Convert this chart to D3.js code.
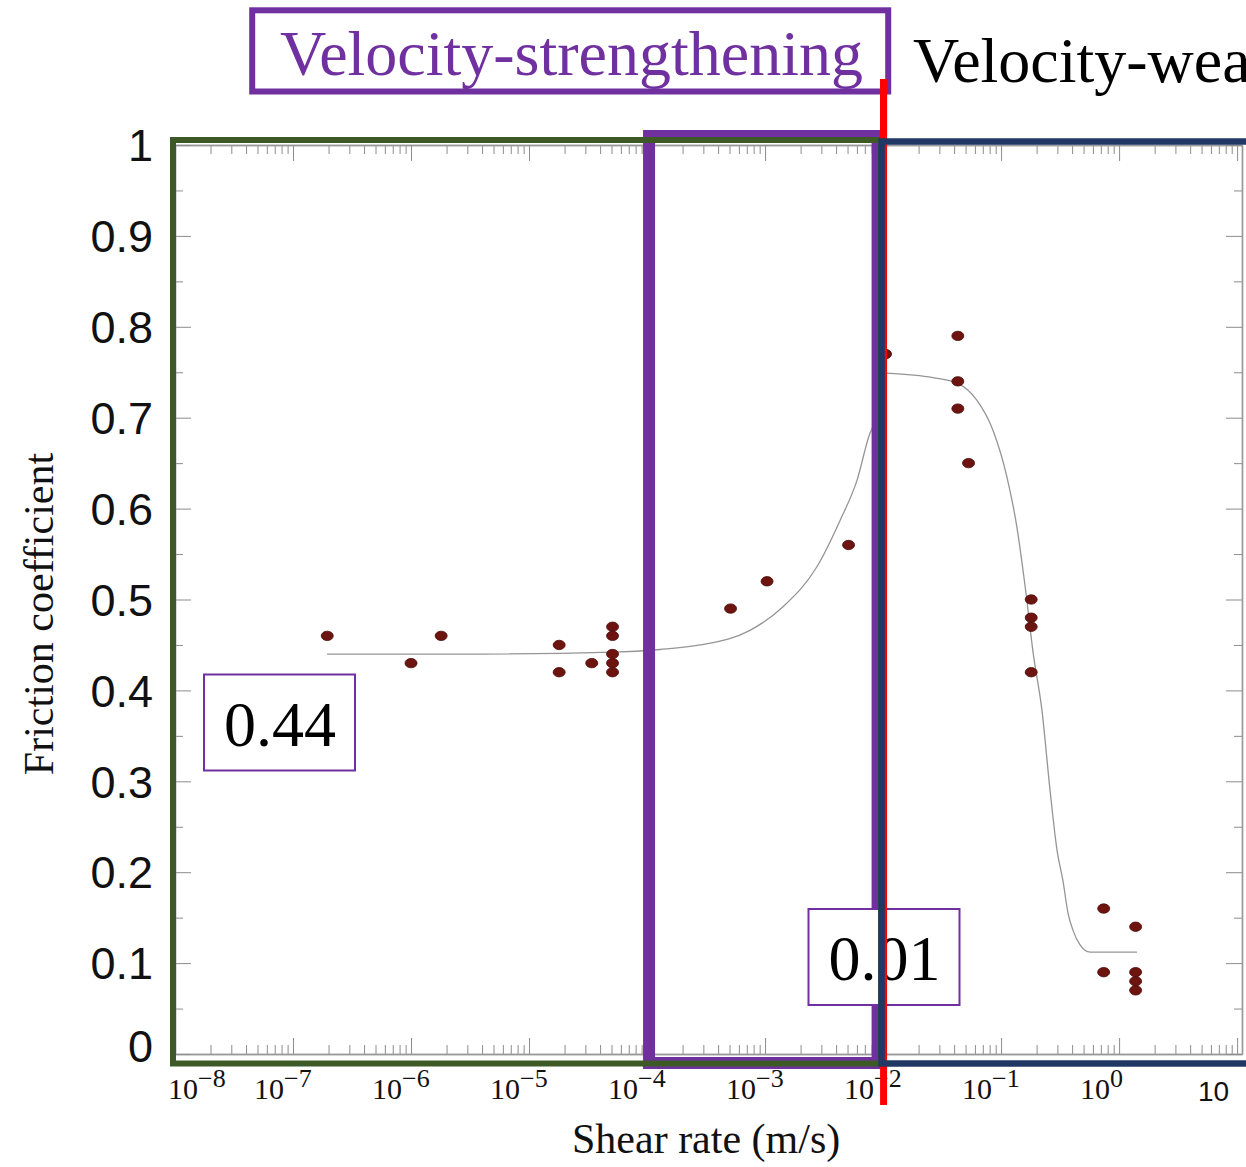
<!DOCTYPE html>
<html>
<head>
<meta charset="utf-8">
<script src="https://cdn.jsdelivr.net/npm/d3@7"></script>
<style>
  html, body { margin: 0; padding: 0; background: #fff; overflow: hidden; }
  svg { display: block; }
  .frame .domain { stroke: #9a9a9a; stroke-width: 1.4; }
  .frame .tick line { stroke: #8c8c8c; stroke-width: 1; }
</style>
</head>
<body>
<svg id="chart" width="1246" height="1167"></svg>
<script>
// Measured samples: shear rate (m/s) against friction coefficient
const shearRate = [1.95e-7, 1.0e-6, 1.8e-6, 1.8e-5, 1.8e-5, 3.4e-5,
  5.1e-5, 5.1e-5, 5.1e-5, 5.1e-5, 5.1e-5,
  5.1e-4, 1.04e-3, 5.1e-3, 1.05e-2,
  4.3e-2, 4.3e-2, 4.3e-2, 5.3e-2,
  0.18, 0.18, 0.18, 0.18,
  0.74, 0.74, 1.38, 1.38, 1.38, 1.38];
const friction = [0.46, 0.43, 0.46, 0.45, 0.42, 0.43,
  0.47, 0.46, 0.44, 0.43, 0.42,
  0.49, 0.52, 0.56, 0.77,
  0.79, 0.74, 0.71, 0.65,
  0.50, 0.48, 0.47, 0.42,
  0.16, 0.09, 0.14, 0.09, 0.08, 0.07];

// Fitted trend, strengthening branch (below the transition rate)
const fitRiseRate = [1.94e-7, 3.85e-6, 5.15e-5, 1.29e-4, 2.81e-4, 7.45e-4, 1.42e-3, 2.75e-3, 4.32e-3, 6.01e-3, 7.74e-3, 9.06e-3];
const fitRiseMu   = [0.440, 0.440, 0.442, 0.445, 0.450, 0.466, 0.492, 0.536, 0.587, 0.631, 0.683, 0.700];
// Fitted trend, weakening branch (above the transition rate)
const fitFallRate = [1.08e-2, 2.65e-2, 4.24e-2, 6.25e-2, 8.55e-2, 0.112, 0.136, 0.160, 0.187, 0.222, 0.260, 0.298, 0.334, 0.369, 0.407, 0.467, 0.568, 1.42];
const fitFallMu   = [0.749, 0.744, 0.738, 0.719, 0.686, 0.635, 0.580, 0.514, 0.441, 0.378, 0.290, 0.224, 0.191, 0.155, 0.136, 0.120, 0.112, 0.112];

// Axis labelling
const xDecades = [-8, -7, -6, -5, -4, -3, -2, -1, 0];
const xLastTick = 10;
const yTickValues = [0, 0.1, 0.2, 0.3, 0.4, 0.5, 0.6, 0.7, 0.8, 0.9, 1];
const yTickLabels = ["0", "0.1", "0.2", "0.3", "0.4", "0.5", "0.6", "0.7", "0.8", "0.9", "1"];

// Annotated quantities
const plateauMu = 0.44;        // low-rate friction plateau
const transitionRate = 0.01;   // strengthening -> weakening boundary (m/s)
const zoneStartRate = 1e-4;    // start of the strengthening ramp

const PURPLE = "#7030a0", GREEN = "#3d5a26", NAVY = "#1f3864", RED = "#ff0000";
const SERIF = "'Liberation Serif', 'Times New Roman', serif";
const SANS = "'Liberation Sans', Arial, sans-serif";

const svg = d3.select("#chart");
svg.append("rect").attr("width", 1246).attr("height", 1167).attr("fill", "#fff");

const x = d3.scaleLog().domain([1e-8, 11]).range([175, 1242]);
const y = d3.scaleLinear().domain([0, 1]).range([1054, 145]);

const isDecade = t => Math.abs(Math.log10(t) - Math.round(Math.log10(t))) < 1e-9;
const xTicks = x.ticks();
const xMajor = xTicks.filter(isDecade);
const xMinor = xTicks.filter(t => !isDecade(t));
const yAll = y.ticks(20);
const yMajor = yAll.filter(v => Math.abs(v * 10 - Math.round(v * 10)) < 1e-9);
const yMinor = yAll.filter(v => Math.abs(v * 10 - Math.round(v * 10)) >= 1e-9);

const chart = svg.append("g");

// Frame with inward log ticks on all four sides
function frameAxis(axis, tr) {
  return chart.append("g").attr("class", "frame").attr("transform", tr).call(axis);
}
frameAxis(d3.axisBottom(x).tickValues(xMinor).tickSizeInner(-9).tickSizeOuter(0).tickFormat(""), "translate(0,1054)");
frameAxis(d3.axisBottom(x).tickValues(xMajor).tickSizeInner(-16).tickSizeOuter(0).tickFormat(""), "translate(0,1054)");
frameAxis(d3.axisTop(x).tickValues(xMinor).tickSizeInner(-9).tickSizeOuter(0).tickFormat(""), "translate(0,145)");
frameAxis(d3.axisTop(x).tickValues(xMajor).tickSizeInner(-16).tickSizeOuter(0).tickFormat(""), "translate(0,145)");
frameAxis(d3.axisLeft(y).tickValues(yMinor).tickSizeInner(-8).tickSizeOuter(0).tickFormat(""), "translate(175,0)");
frameAxis(d3.axisLeft(y).tickValues(yMajor).tickSizeInner(-16).tickSizeOuter(0).tickFormat(""), "translate(175,0)");
frameAxis(d3.axisRight(y).tickValues(yMinor).tickSizeInner(-8).tickSizeOuter(0).tickFormat(""), "translate(1242,0)");
frameAxis(d3.axisRight(y).tickValues(yMajor).tickSizeInner(-16).tickSizeOuter(0).tickFormat(""), "translate(1242,0)");
chart.selectAll(".frame .tick text").remove();

// Y tick labels
chart.append("g").selectAll("text").data(yTickValues).join("text")
  .attr("x", 153)
  .attr("y", (d) => y(d) + (d === 0 ? -8 : 0))
  .attr("dy", "0.36em")
  .attr("text-anchor", "end")
  .attr("font-family", SANS)
  .attr("font-size", 45)
  .attr("fill", "#111")
  .text((d, i) => yTickLabels[i]);

// X tick labels: powers of ten with superscript exponent
const xl = chart.append("g").attr("font-family", SERIF).attr("fill", "#111");
xDecades.forEach(k => {
  const tx = x(Math.pow(10, k));
  const t = xl.append("text")
    .attr("x", Math.max(tx - 39, 168))
    .attr("y", 1099)
    .attr("font-size", 30);
  t.append("tspan").text("10");
  t.append("tspan").attr("dy", -12).attr("font-size", 26).text(k < 0 ? "\u2212" + Math.abs(k) : String(k));
});
chart.append("text")
  .attr("x", x(xLastTick) - 8).attr("y", 1101)
  .attr("text-anchor", "end")
  .attr("font-family", SANS)
  .attr("font-size", 28).attr("fill", "#111")
  .text(String(xLastTick));

// Axis titles
chart.append("text")
  .attr("x", 572).attr("y", 1153)
  .attr("font-family", SERIF)
  .attr("font-size", 42).attr("fill", "#111")
  .text("Shear rate (m/s)");
chart.append("text")
  .attr("transform", "translate(53,614) rotate(-90)")
  .attr("text-anchor", "middle")
  .attr("font-family", SERIF)
  .attr("font-size", 42).attr("fill", "#111")
  .text("Friction coefficient");

// Fitted trend
const line = d3.line().x(d => x(d[0])).y(d => y(d[1])).curve(d3.curveMonotoneX);
[[fitRiseRate, fitRiseMu], [fitFallRate, fitFallMu]].forEach(([r, m]) => {
  chart.append("path")
    .datum(r.map((v, i) => [v, m[i]]))
    .attr("d", line)
    .attr("fill", "none")
    .attr("stroke", "#959595")
    .attr("stroke-width", 1.3);
});

// Measured points
chart.append("g").selectAll("ellipse").data(shearRate).join("ellipse")
  .attr("cx", d => x(d))
  .attr("cy", (d, i) => y(friction[i]))
  .attr("rx", 6).attr("ry", 4.7)
  .attr("fill", "#6e1410")
  .attr("stroke", "#4a0b08")
  .attr("stroke-width", 0.8);

// Value callout boxes
function callout(bx, by, label) {
  const g = svg.append("g");
  g.append("rect").attr("x", bx).attr("y", by).attr("width", 151).attr("height", 96)
    .attr("fill", "#fff").attr("stroke", PURPLE).attr("stroke-width", 2);
  g.append("text").attr("x", bx + 20).attr("y", by + 71)
    .attr("font-family", SERIF)
    .attr("font-size", 64).attr("fill", "#000")
    .text(label);
}
callout(204, 674.5, String(plateauMu));

// Strengthening ramp zone
const xT = x(transitionRate);
svg.append("rect")
  .attr("x", x(zoneStartRate) + 2).attr("y", 136)
  .attr("width", (xT - 5.5) - (x(zoneStartRate) + 2)).attr("height", 927)
  .attr("fill", "none").attr("stroke", PURPLE).attr("stroke-width", 12);

callout(808.5, 909, String(transitionRate));

// Low-rate region
svg.append("rect")
  .attr("x", x(1e-8) - 2).attr("y", 140)
  .attr("width", (xT - 2) - (x(1e-8) - 2)).attr("height", 923.5)
  .attr("fill", "none").attr("stroke", GREEN).attr("stroke-width", 6);

// Transition rate marker
svg.append("line")
  .attr("x1", xT + 0.5).attr("x2", xT + 0.5)
  .attr("y1", 79).attr("y2", 1105)
  .attr("stroke", RED).attr("stroke-width", 7);

// High-rate region
svg.append("rect")
  .attr("x", xT - 1.5).attr("y", 141.5)
  .attr("width", 1300 - xT).attr("height", 922)
  .attr("fill", "none").attr("stroke", NAVY).attr("stroke-width", 6.5);

// Regime headings
svg.append("rect")
  .attr("x", 252.2).attr("y", 10.3).attr("width", 636).attr("height", 81.2)
  .attr("fill", "none").attr("stroke", PURPLE).attr("stroke-width", 6);
svg.append("text")
  .attr("x", 280).attr("y", 75)
  .attr("font-family", SERIF)
  .attr("font-size", 64).attr("fill", PURPLE)
  .text("Velocity-strengthening");
svg.append("text")
  .attr("x", 913).attr("y", 82)
  .attr("font-family", SERIF)
  .attr("font-size", 64).attr("fill", "#000")
  .text("Velocity-weakening");
// keep the marker above the heading frame
svg.append("line")
  .attr("x1", xT + 0.5).attr("x2", xT + 0.5)
  .attr("y1", 79).attr("y2", 136)
  .attr("stroke", RED).attr("stroke-width", 7);
</script>
</body>
</html>
